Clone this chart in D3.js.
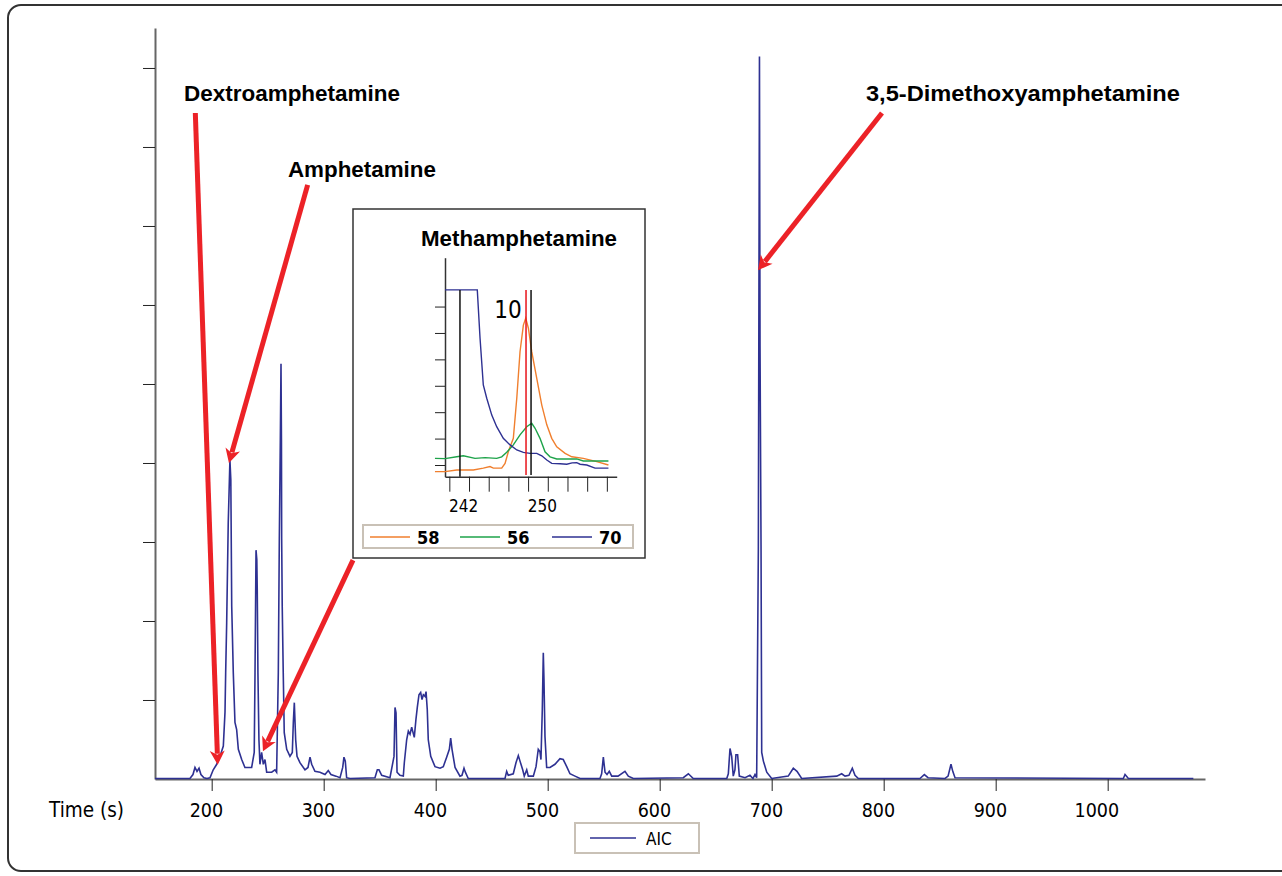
<!DOCTYPE html>
<html>
<head>
<meta charset="utf-8">
<script src="https://cdn.jsdelivr.net/npm/d3@7"></script>
<style>
  html, body { margin: 0; padding: 0; background: #fff; }
  svg { display: block; }
  .bold { font-family: 'Liberation Sans', Arial, sans-serif; font-weight: bold; }
</style>
</head>
<body>
<svg id="chart" width="1282" height="876"></svg>
<script>
// ---------------- DATA ----------------
const aicTime = [149.4,180.6,183.3,185.1,186.9,188.7,190.4,193.1,195.8,198.5,201.4,204.5,207.4,210.4,211.9,212.5,213.4,214.8,216.3,217.1,217.9,219.3,220.8,222.3,223.8,226.8,229.7,232.4,235.7,238.0,238.7,239.6,240.3,240.7,241.3,242.2,243.1,244.6,246.1,247.6,249.1,253.6,256.5,258.0,259.5,260.4,261.3,261.9,262.3,262.5,263.0,263.9,264.8,267.0,269.9,272.0,272.9,273.8,275.0,276.2,278.8,283.3,286.0,287.8,289.3,292.2,296.7,301.2,304.1,306.5,311.0,314.6,317.0,318.1,319.3,320.5,323.5,345.8,347.9,349.4,351.8,359.2,362.8,363.7,364.6,365.5,368.1,371.1,372.0,374.1,375.6,377.1,378.6,379.8,380.9,382.4,383.6,385.1,386.6,387.8,389.0,390.5,391.4,392.5,393.4,395.6,399.4,403.9,406.8,409.8,412.2,413.4,414.6,417.3,421.7,423.5,425.3,426.5,429.1,461.9,463.4,464.8,469.3,471.7,473.8,475.3,477.7,479.1,481.3,482.7,487.2,489.6,491.6,493.1,494.0,495.2,496.1,496.7,497.6,499.1,502.1,506.5,511.0,513.9,517.0,519.9,524.4,528.9,546.7,548.2,549.7,551.2,553.0,555.0,557.2,562.8,569.0,572.0,576.5,621.1,625.6,630.0,659.9,661.3,662.8,664.3,665.7,667.2,668.1,669.6,671.1,676.2,680.6,683.3,685.1,686.6,688.1,689.1,689.6,689.9,690.5,691.1,692.6,695.6,700.0,714.8,719.3,722.6,726.8,758.1,762.5,765.5,769.0,772.0,774.4,777.4,832.4,836.3,839.6,854.8,857.5,860.1,861.7,863.7,1014.0,1015.5,1018.5,1076.5];
const aicIntensity = [0,0,0.05,0.14,0.09,0.13,0.05,0.01,0,0.01,0.11,0.18,0.28,0.41,0.84,1.34,1.97,3.24,4.03,3.78,2.18,1.34,0.71,0.62,0.37,0.24,0.14,0.14,0.14,0.33,1.34,2.89,2.77,2.39,1.34,0.49,0.18,0.33,0.18,0.24,0.08,0.08,0.11,0.08,1.34,3.03,4.29,5.25,4.29,3.03,2.18,1.34,0.58,0.37,0.28,0.33,0.71,0.96,0.49,0.28,0.20,0.11,0.14,0.27,0.18,0.09,0.08,0.05,0.10,0.05,0.03,0.01,0.14,0.27,0.22,0.01,0,0.01,0.11,0.11,0.04,0.01,0.28,0.90,0.83,0.08,0.04,0.03,0.20,0.49,0.60,0.56,0.65,0.58,0.52,0.75,0.90,1.06,1.09,1.00,1.06,1.04,1.10,0.87,0.49,0.28,0.15,0.13,0.15,0.27,0.37,0.51,0.37,0.14,0.03,0.04,0.13,0.08,0,0,0.09,0.04,0.06,0.20,0.29,0.22,0.11,0.03,0.11,0.03,0.03,0.15,0.37,0.34,0.24,0.87,1.59,1.25,0.53,0.14,0.14,0.18,0.25,0.24,0.15,0.06,0.03,0,0,0.06,0.27,0.08,0.05,0.09,0.03,0.03,0.09,0.03,0,0.01,0.06,0,0,0.06,0.38,0.28,0.03,0.11,0.30,0.30,0.03,0.01,0.04,0,0.05,0.01,2.9,9.14,5.47,4.63,2.94,0.33,0.22,0.08,0,0.03,0.13,0.09,0,0.03,0.06,0.03,0.04,0.13,0.04,0,0,0.05,0.01,0,0.03,0.18,0.09,0.01,0,0.05,0,0];
const timeTicks = [200, 300, 400, 500, 600, 700, 800, 900, 1000];
const intensityTicks = [1, 2, 3, 4, 5, 6, 7, 8, 9];
const xAxisTitle = "Time (s)";
const legendLabel = "AIC";

// annotations: label + arrow tail/head in data coordinates (time, intensity)
const annLabels = ["Dextroamphetamine", "Amphetamine", "3,5-Dimethoxyamphetamine"];
const annLabelTime = [175.3, 268.1, 784.2];
const annLabelIntensity = [8.58, 7.62, 8.58];
const annLabelWidth = [216, 148, 314];
const arrowTailTime = [185.4, 285.7, 326.2, 798.5];
const arrowTailIntensity = [8.43, 7.52, 2.77, 8.43];
const arrowHeadTime = [205.4, 215.4, 245.8, 687.8];
const arrowHeadIntensity = [0.18, 4.0, 0.35, 6.44];

// inset (Methamphetamine extracted ions)
const insetTitle = "Methamphetamine";
const ionNames = ["58", "56", "70"];
const ion58Time = [238.54,239.56,240.75,242.44,243.45,244.13,244.47,245.32,245.66,245.99,246.50,246.85,247.18,247.52,247.76,248.03,248.37,248.88,249.39,249.90,250.40,250.91,251.76,252.44,253.61,254.98,256.16];
const ion58 = [0.75,0.75,0.81,0.81,0.88,0.94,0.88,0.88,1.06,1.50,2.01,3.53,5.29,6.30,6.56,6.18,5.29,4.28,3.27,2.52,2.01,1.69,1.44,1.31,1.25,1.13,1.00];
const ion56Time = [238.54,239.56,240.75,241.42,242.61,243.63,244.81,245.32,245.83,246.50,247.18,247.86,248.37,248.71,249.21,249.72,250.23,250.91,252.94,253.61,254.98,256.16];
const ion56 = [1.25,1.24,1.31,1.35,1.25,1.28,1.25,1.31,1.48,1.76,2.14,2.45,2.58,2.39,2.01,1.50,1.31,1.23,1.23,1.15,1.15,1.15];
const ion70Time = [239.56,242.84,243.12,243.45,243.80,244.31,244.81,245.48,246.17,246.85,247.52,248.20,248.88,249.39,249.90,250.40,251.25,251.93,252.47,252.94,253.28,253.96,254.80,256.16];
const ion70 = [7.63,7.63,5.80,4.03,3.53,2.89,2.45,2.01,1.76,1.57,1.48,1.44,1.44,1.35,1.19,1.06,1.05,1.03,1.08,1.09,1.03,1.00,0.88,0.88];
const insetTimeTicks = [240, 242, 244, 246, 248, 250, 252, 254, 256];
const insetTimeLabels = [242, 250];
const insetIntensityTicks = [1, 2, 3, 4, 5, 6, 7];
const markerTimes = [241.08, 247.79, 248.30];
const markerTop = 7.63;
const peakLabel = "10";
const peakLabelTime = 247.35;
const peakLabelIntensity = 6.57;

// ---------------- DRAW ----------------
const svg = d3.select("#chart");
const BLUE = "#2e3192", RED = "#ec2227";
const COLORS = { "58": "#f07f2e", "56": "#1ea34a", "70": "#2e3192" };
const COND = "'DejaVu Sans Condensed','DejaVu Sans',sans-serif";

// outer frame
svg.append("rect").attr("x", 8).attr("y", 5).attr("width", 1300).attr("height", 866)
  .attr("rx", 13).attr("fill", "none").attr("stroke", "#333").attr("stroke-width", 2);

const x = d3.scaleLinear().domain([149.4, 1086.9]).range([155, 1205]);
const y = d3.scaleLinear().domain([0, 9.506]).range([779, 28]);

// y axis
const yAx = svg.append("g").attr("transform", "translate(155,0)")
  .call(d3.axisLeft(y).tickValues(intensityTicks).tickSize(12).tickSizeOuter(0).tickFormat(""));
yAx.select(".domain").attr("stroke", "#666").attr("stroke-width", 2);
yAx.selectAll(".tick line").attr("stroke", "#222").attr("stroke-width", 1);

// x axis
const xAx = svg.append("g").attr("transform", "translate(0,779)")
  .call(d3.axisBottom(x).tickValues(timeTicks).tickSize(12).tickSizeOuter(0).tickFormat(d3.format("d")));
xAx.select(".domain").attr("stroke", "#666").attr("stroke-width", 2);
xAx.selectAll(".tick line").attr("stroke", "#222").attr("stroke-width", 1);
xAx.selectAll(".tick text").attr("font-size", 19.5).attr("fill", "#000")
  .attr("dy", 0).attr("y", 38).attr("x", 11).attr("text-anchor", "end").style("font-family", COND);

svg.append("text").attr("x", 49).attr("y", 817).style("font-family", COND)
  .attr("font-size", 20.5).attr("fill", "#000").text(xAxisTitle);

// chromatogram line
const aicData = aicTime.map((t, i) => [t, aicIntensity[i]]);
svg.append("path").datum(aicData)
  .attr("fill", "none").attr("stroke", BLUE).attr("stroke-width", 1.6).attr("stroke-linejoin", "miter")
  .attr("d", d3.line().x(d => x(d[0])).y(d => y(d[1]) - 0.5));

// legend
svg.append("rect").attr("x", 575).attr("y", 823).attr("width", 124).attr("height", 30)
  .attr("fill", "#fff").attr("stroke", "#c9c1b6").attr("stroke-width", 2);
svg.append("line").attr("x1", 590).attr("x2", 636).attr("y1", 838).attr("y2", 838)
  .attr("stroke", BLUE).attr("stroke-width", 1.3);
svg.append("text").attr("x", 646).attr("y", 845).attr("font-size", 17).style("font-family", COND)
  .attr("fill", "#000").text(legendLabel);

// arrows
function arrow(g, x1, y1, x2, y2) {
  const ang = Math.atan2(y2 - y1, x2 - x1);
  const L = 14, W = 7.5;
  const bx = x2 - L * Math.cos(ang), by = y2 - L * Math.sin(ang);
  g.append("line").attr("x1", x1).attr("y1", y1).attr("x2", bx + 3 * Math.cos(ang)).attr("y2", by + 3 * Math.sin(ang))
    .attr("stroke", RED).attr("stroke-width", 5);
  const px = -Math.sin(ang), py = Math.cos(ang);
  const pts = [[x2, y2], [bx + W * px, by + W * py], [bx + 4 * Math.cos(ang), by + 4 * Math.sin(ang)], [bx - W * px, by - W * py]];
  g.append("polygon").attr("points", pts.map(p => p.join(",")).join(" ")).attr("fill", RED);
}
const arrowsG = svg.append("g");
arrowTailTime.forEach((t, i) => {
  arrow(arrowsG, x(t), y(arrowTailIntensity[i]), x(arrowHeadTime[i]), y(arrowHeadIntensity[i]));
});

annLabels.forEach((s, i) => {
  svg.append("text").attr("class", "bold").attr("x", x(annLabelTime[i])).attr("y", y(annLabelIntensity[i]))
    .attr("font-size", 22.5).attr("fill", "#000")
    .attr("textLength", annLabelWidth[i]).attr("lengthAdjust", "spacingAndGlyphs").text(s);
});

// ---------------- INSET ----------------
const inset = svg.append("g");
inset.append("rect").attr("x", 353).attr("y", 209).attr("width", 292).attr("height", 349)
  .attr("fill", "#fff").attr("stroke", "#333").attr("stroke-width", 1.5);
inset.append("text").attr("class", "bold").attr("x", 421).attr("y", 246)
  .attr("font-size", 22).attr("fill", "#000")
  .attr("textLength", 196).attr("lengthAdjust", "spacingAndGlyphs").text(insetTitle);

const ix = d3.scaleLinear().domain([239.56, 257.0]).range([445, 616.7]);
const iy = d3.scaleLinear().domain([0.557, 8.85]).range([476.7, 257.7]);

const iyAx = inset.append("g").attr("transform", "translate(445,0)")
  .call(d3.axisLeft(iy).tickValues(insetIntensityTicks).tickSize(10).tickFormat("").tickSizeOuter(0));
iyAx.select(".domain").attr("stroke", "#333").attr("stroke-width", 1.5);
iyAx.selectAll(".tick line").attr("stroke", "#222");

const ixAx = inset.append("g").attr("transform", "translate(0,476.7)")
  .call(d3.axisBottom(ix).tickValues(insetTimeTicks).tickSize(15).tickSizeOuter(0)
    .tickFormat(d => insetTimeLabels.includes(d) ? d : ""));
ixAx.select(".domain").attr("stroke", "#333").attr("stroke-width", 1.5);
ixAx.selectAll(".tick line").attr("stroke", "#222");
ixAx.selectAll(".tick text").attr("font-size", 17).attr("fill", "#000").attr("dy", 0).attr("y", 35).attr("x", -6)
  .style("font-family", COND);

// ion traces
const ionSeries = [[ion58Time, ion58, "58"], [ion56Time, ion56, "56"], [ion70Time, ion70, "70"]];
ionSeries.forEach(([ts, vs, name]) => {
  inset.append("path").datum(ts.map((t, i) => [t, vs[i]]))
    .attr("fill", "none").attr("stroke", COLORS[name]).attr("stroke-width", 1.4)
    .attr("d", d3.line().x(d => ix(d[0])).y(d => iy(d[1])));
});

// marker lines
markerTimes.forEach((t, i) => {
  inset.append("line").attr("x1", ix(t)).attr("x2", ix(t)).attr("y1", iy(markerTop)).attr("y2", i === 0 ? 476.7 : 475)
    .attr("stroke", i === 1 ? "#e8141b" : "#111").attr("stroke-width", 1.5);
});

inset.append("text").attr("x", ix(peakLabelTime)).attr("y", iy(peakLabelIntensity)).attr("font-size", 24)
  .style("font-family", COND).attr("fill", "#000").attr("text-anchor", "end").text(peakLabel);

// inset legend
inset.append("rect").attr("x", 363).attr("y", 525).attr("width", 270).attr("height", 23)
  .attr("fill", "#fff").attr("stroke", "#c9c1b6").attr("stroke-width", 2);
const legX = [370, 460, 552];
ionNames.forEach((n, i) => {
  inset.append("line").attr("x1", legX[i]).attr("x2", legX[i] + 40).attr("y1", 537).attr("y2", 537)
    .attr("stroke", COLORS[n]).attr("stroke-width", 1.3);
  inset.append("text").attr("x", legX[i] + 47).attr("y", 543.5).attr("font-size", 18).attr("font-weight", "bold")
    .style("font-family", COND).attr("fill", "#000").text(n);
});
</script>
</body>
</html>
